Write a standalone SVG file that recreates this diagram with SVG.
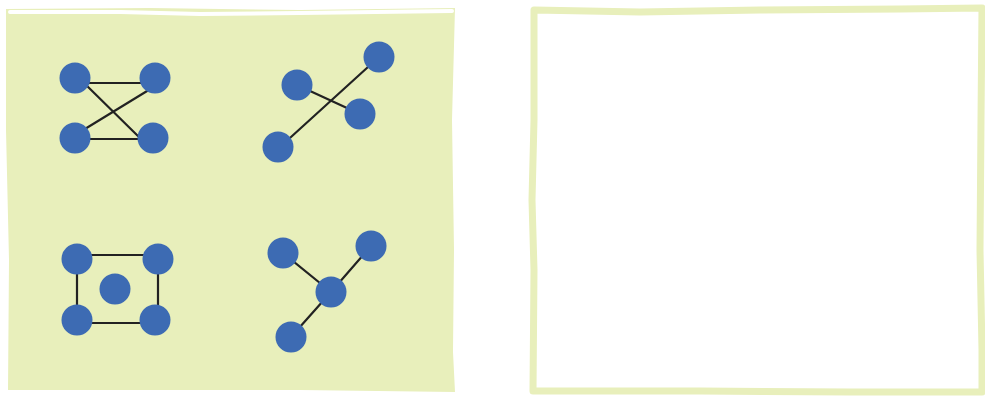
<svg xmlns="http://www.w3.org/2000/svg" width="985" height="396" viewBox="0 0 985 396">
<style>
.panel{fill:#e8efbb;}
.frame{fill:#ffffff;stroke:#e8efbb;stroke-width:7;stroke-linejoin:round;}
.edge{stroke:#222222;stroke-width:2.2;fill:none;stroke-linecap:round;}
.node{fill:#3d6bb3;}
</style>
<rect width="985" height="396" fill="#ffffff"/>
<g id="panel-left">
<path class="panel" d="M6,9 L150,8 L300,10 L455,8 L452,120 L454,250 L453,352 L455,392 L300,390 L170,390 L8,390 L9,260 L6,130 Z"/>
<path d="M10,12 L120,12 L200,14 L300,13 L452,11" stroke="#ffffff" stroke-width="4" fill="none" stroke-linecap="round"/>
</g>
<g id="panel-right">
<path class="frame" d="M534,10 L640,12 L760,10 L900,9 L982,8 L981,120 L980,250 L982,350 L982,392 L850,392 L700,391 L533,391 L534,270 L532,200 L534,120 Z"/>
</g>
<g id="connectors">
<line class="edge" x1="75" y1="83" x2="155" y2="83"/>
<line class="edge" x1="75" y1="139" x2="153" y2="139"/>
<line class="edge" x1="82" y1="81" x2="142" y2="140"/>
<line class="edge" x1="80" y1="132" x2="152" y2="88"/>
<line class="edge" x1="280" y1="147" x2="379" y2="57"/>
<line class="edge" x1="297" y1="85" x2="360" y2="114"/>
<line class="edge" x1="77" y1="255" x2="158" y2="255"/>
<line class="edge" x1="77" y1="323" x2="155" y2="323"/>
<line class="edge" x1="77" y1="255" x2="77" y2="323"/>
<line class="edge" x1="158" y1="255" x2="158" y2="323"/>
<line class="edge" x1="283" y1="253" x2="331" y2="292"/>
<line class="edge" x1="371" y1="246" x2="331" y2="292"/>
<line class="edge" x1="331" y1="292" x2="291" y2="337"/>
</g>
<g id="g1-n1"><circle class="node" cx="75" cy="78" r="15.5"/></g>
<g id="g1-n2"><circle class="node" cx="155" cy="78" r="15.5"/></g>
<g id="g1-n3"><circle class="node" cx="75" cy="138" r="15.5"/></g>
<g id="g1-n4"><circle class="node" cx="153" cy="138" r="15.5"/></g>
<g id="g2-n1"><circle class="node" cx="379" cy="57" r="15.5"/></g>
<g id="g2-n2"><circle class="node" cx="297" cy="85" r="15.5"/></g>
<g id="g2-n3"><circle class="node" cx="360" cy="114" r="15.5"/></g>
<g id="g2-n4"><circle class="node" cx="278" cy="147" r="15.5"/></g>
<g id="g3-n1"><circle class="node" cx="77" cy="259" r="15.5"/></g>
<g id="g3-n2"><circle class="node" cx="158" cy="259" r="15.5"/></g>
<g id="g3-n3"><circle class="node" cx="115" cy="289" r="15.5"/></g>
<g id="g3-n4"><circle class="node" cx="77" cy="320" r="15.5"/></g>
<g id="g3-n5"><circle class="node" cx="155" cy="320" r="15.5"/></g>
<g id="g4-n1"><circle class="node" cx="283" cy="253" r="15.5"/></g>
<g id="g4-n2"><circle class="node" cx="371" cy="246" r="15.5"/></g>
<g id="g4-n3"><circle class="node" cx="331" cy="292" r="15.5"/></g>
<g id="g4-n4"><circle class="node" cx="291" cy="337" r="15.5"/></g>
</svg>
